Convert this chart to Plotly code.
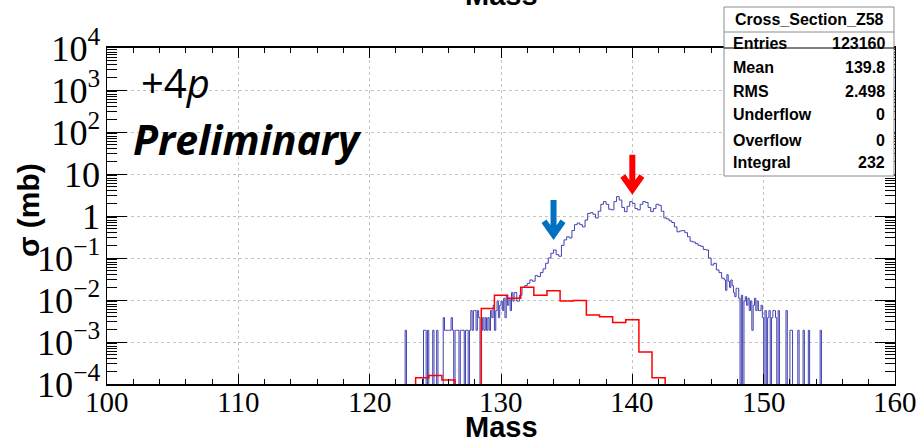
import numpy as np
import plotly.graph_objects as go

# ---------------- data ----------------
s1, s2, s3, s4 = 0.0019, 0.0038, 0.0056, 0.0075   # 1..4 entries per bin

# blue histogram, left tail: 0.1-wide bins from 122.0 to 131.0
blue_left_lo, blue_left_w = 122.0, 0.1
blue_left = [
    0, 0, 0, 0, 0, 0, 0, s1, 0, 0,                       # 122
    0, 0, 0, 0, 0, 0, 0, 0, 0, 0,                        # 123
    0, s1, s1, 0, s1, 0, 0, 0, s1, 0,                    # 124
    0, s1, 0, 0, 0, 0, s2, s1, s1, s1,                   # 125
    s1, s1, s2, s1, 0, s1, s1, s1, 0, s1,                # 126
    s1, s1, 0, s1, s1, 0, s1, s3, s1, s3,                # 127
    s3, s1, s3, s2, 0, s1, s2, s1, s2, s1,               # 128
    s2, s1, s3, s2, s4, s1, s3, 0.0094, s2, s4,          # 129
    0.0094, 0.0056, 0.011, 0.0038, 0.013, 0.0075, 0.011, 0.0056, 0.015, 0.0094,  # 130
]
# blue histogram, core: 0.2-wide bins from 131.0 to 147.0
blue_core_lo, blue_core_w = 131.0, 0.2
blue_core = [
    0.015, 0.0094, 0.013, 0.02, 0.022,     # 131
    0.025, 0.03, 0.028, 0.038, 0.036,      # 132
    0.045, 0.055, 0.075, 0.1, 0.13,        # 133
    0.155, 0.12, 0.11, 0.2, 0.27,          # 134
    0.32, 0.3, 0.45, 0.62, 0.68,           # 135
    0.62, 0.55, 0.8, 1.15, 1.2,            # 136
    1.1, 0.9, 1.3, 1.9, 2.2,               # 137
    1.9, 1.45, 1.4, 2.2, 2.9,              # 138
    2.4, 1.6, 1.27, 1.7, 2.2,              # 139
    2.0, 1.5, 1.4, 1.9, 2.2,               # 140
    2.1, 1.6, 1.27, 1.5, 1.9,              # 141
    1.8, 1.3, 0.9, 0.85, 0.77,             # 142
    0.7, 0.55, 0.42, 0.44, 0.45,           # 143
    0.4, 0.32, 0.25, 0.24, 0.22,           # 144
    0.2, 0.19, 0.16, 0.155, 0.1,           # 145
    0.068, 0.075, 0.052, 0.045, 0.033,     # 146
]
# blue histogram, right tail: 0.1-wide bins from 147.0 to 155.0
blue_right_lo, blue_right_w = 147.0, 0.1
blue_right = [
    0.03, 0.017, 0.04, 0.028, 0.02, 0.03, 0.022, 0.015, 0.012, 0.019,      # 147
    0.019, 0.011, 0, 0.013, 0, 0.0094, 0.012, 0.0075, 0.011, 0.0056,       # 148
    0.0094, s1, 0.0075, 0.011, 0.0056, 0.0094, 0.0056, 0.0056, 0.0075, s2,  # 149
    0, 0.0056, 0, s2, 0.0056, 0, s2, 0.0056, 0.0056, s2,                    # 150
    0, 0.0056, 0, 0, 0, 0, 0, 0.0056, 0, 0,                                  # 151
    s1, s1, 0, 0, 0, 0, s1, 0, 0, 0,                                         # 152
    s1, 0, 0, 0, s1, 0, 0, 0, 0, 0,                                          # 153
    0, 0, 0, s1, 0, 0, 0, 0, 0, 0,                                           # 154
]

# red histogram: 1.0-wide bins starting at 123.5
red_lo, red_w = 123.5, 1.0
red_sigma = [1.4e-4, 1.6e-4, 1.25e-4, 0, 0, 0.0063, 0.013, 0.011, 0.020,
             0.013, 0.0166, 0.0095, 0.0097, 0.0044, 0.0040, 0.0029, 0.0034,
             5.8e-4, 1.4e-4]

xtick_vals = [100, 110, 120, 130, 140, 150, 160]

arrow_mass = [134.0, 140.0]
arrow_tip_sigma = [0.27, 3.2]
arrow_colors = ["#0070C0", "#FF0000"]

stats_title = "Cross_Section_Z58"
stats_labels = ["Entries", "Mean", "RMS", "Underflow", "Overflow", "Integral"]
stats_values = ["123160", "139.8", "2.498", "0", "0", "232"]

# ---------------- helpers ----------------
W, H = 917, 443
L, R, T, B = 107, 895, 48, 384
PW, PH = R - L, B - T


def fx(px):
    return (px - L) / PW


def fy(py):
    return (B - py) / PH


FLOOR = 1e-7


def edges_of(lo, w, n):
    return lo + w * np.arange(n)


def step_xy(left_edges, right_end, vals):
    vals = np.asarray(vals, dtype=float)
    edges = np.concatenate([left_edges, [right_end]])
    x = np.concatenate([[edges[0]], edges])
    y = np.concatenate([[FLOOR], np.where(vals > 0, vals, FLOOR), [FLOOR]])
    return x, y


blue_edges = np.concatenate([
    edges_of(blue_left_lo, blue_left_w, len(blue_left)),
    edges_of(blue_core_lo, blue_core_w, len(blue_core)),
    edges_of(blue_right_lo, blue_right_w, len(blue_right)),
])
blue_vals = blue_left + blue_core + blue_right
bx, by = step_xy(blue_edges, blue_right_lo + blue_right_w * len(blue_right), blue_vals)
rx, ry = step_xy(edges_of(red_lo, red_w, len(red_sigma)),
                 red_lo + red_w * len(red_sigma), red_sigma)

fig = go.Figure()
fig.add_trace(go.Scatter(x=bx, y=by, mode="lines", line_shape="hv",
                         line=dict(color="#4040b0", width=1), showlegend=False,
                         hoverinfo="skip"))
fig.add_trace(go.Scatter(x=rx, y=ry, mode="lines", line_shape="hv",
                         line=dict(color="#ff0000", width=1.5), showlegend=False,
                         hoverinfo="skip"))

tickfont = dict(family="Liberation Serif", size=29, color="black")
fig.update_layout(
    width=W, height=H, autosize=False,
    margin=dict(l=L, r=W - R, t=T, b=H - B),
    paper_bgcolor="white", plot_bgcolor="white",
    showlegend=False,
    xaxis=dict(range=[100, 160], tick0=100, dtick=10, ticks="inside", ticklen=10,
               tickwidth=1, tickcolor="black", automargin=False, showticklabels=False,
               minor=dict(dtick=2, ticks="inside", ticklen=5, tickcolor="black", showgrid=False),
               showgrid=True, gridcolor="#c4c4c4", griddash="dot", gridwidth=1,
               showline=True, linecolor="black", linewidth=1.5, mirror="allticks",
               zeroline=False),
    yaxis=dict(type="log", range=[-4, 4], dtick=1, exponentformat="power",
               showexponent="all", ticks="inside", ticklen=20, tickwidth=1,
               tickcolor="black", automargin=False,
               minor=dict(dtick="D1", ticks="inside", ticklen=10, tickcolor="black", showgrid=False),
               showgrid=True, gridcolor="#c4c4c4", griddash="dot", gridwidth=1,
               showline=True, linecolor="black", linewidth=1, mirror="allticks",
               zeroline=False, tickfont=tickfont),
)

shapes = []
# arrows (chevron head + shaft), anchored at data positions, sized in pixels
arrow_path = ("M0,0 L12,17 L7.1,20.5 L3,14.7 L3,40 L-3,40 L-3,14.7 "
              "L-7.1,20.5 L-12,17 Z")
for m, s, c in zip(arrow_mass, arrow_tip_sigma, arrow_colors):
    shapes.append(dict(type="path", xref="x", yref="y", xsizemode="pixel",
                       ysizemode="pixel", xanchor=m, yanchor=s,
                       path=arrow_path, fillcolor=c, line=dict(width=0),
                       layer="above"))

# statistics box
shapes.append(dict(type="rect", xref="paper", yref="paper",
                   x0=fx(724), x1=fx(894), y0=fy(176), y1=fy(7),
                   fillcolor="white", line=dict(color="#8c8c8c", width=1),
                   layer="above"))
shapes.append(dict(type="line", xref="paper", yref="paper",
                   x0=fx(724), x1=fx(894), y0=fy(32), y1=fy(32),
                   line=dict(color="#8c8c8c", width=1), layer="above"))
# frame top edge seen through the box
shapes.append(dict(type="line", xref="paper", yref="paper",
                   x0=fx(724), x1=1, y0=1, y1=1,
                   line=dict(color="black", width=1), layer="above"))
fig.update_layout(shapes=shapes)

ann = []
# x tick labels
for v in xtick_vals:
    ann.append(dict(text=str(v), x=v, y=fy(402), xref="x", yref="paper",
                    xanchor="center", yanchor="middle", showarrow=False,
                    font=tickfont))

statfont = dict(family="Liberation Sans", size=16, color="black")
ann.append(dict(text="<b>%s</b>" % stats_title, x=fx(809), y=fy(19), xref="paper",
                yref="paper", xanchor="center", yanchor="middle", showarrow=False,
                font=statfont))
row_y = [43, 67, 91, 115, 140, 162]
for lab, val, yy in zip(stats_labels, stats_values, row_y):
    ann.append(dict(text="<b>%s</b>" % lab, x=fx(731), y=fy(yy), xref="paper",
                    yref="paper", xanchor="left", yanchor="middle", showarrow=False,
                    font=statfont))
    ann.append(dict(text="<b>%s</b>" % val, x=fx(887), y=fy(yy), xref="paper",
                    yref="paper", xanchor="right", yanchor="middle", showarrow=False,
                    font=statfont))

titlefont = dict(family="Liberation Sans", size=29, color="black")
ann.append(dict(text="<b>Mass</b>", x=fx(501), y=fy(-5), xref="paper", yref="paper",
                xanchor="center", yanchor="middle", showarrow=False, font=titlefont))
ann.append(dict(text="<b>Mass</b>", x=fx(501), y=fy(427), xref="paper", yref="paper",
                xanchor="center", yanchor="middle", showarrow=False, font=titlefont))
ann.append(dict(text="<b>σ (mb)</b>", x=fx(29), y=fy(210), xref="paper", yref="paper",
                xanchor="center", yanchor="middle", textangle=-90, showarrow=False,
                font=dict(family="Liberation Sans", size=30, color="black")))
ann.append(dict(text="+4<i>p</i>", x=fx(139), y=fy(83), xref="paper", yref="paper",
                xanchor="left", yanchor="middle", showarrow=False,
                font=dict(family="Open Sans", size=40, color="black")))
ann.append(dict(text="<b><i>Preliminary</i></b>", x=fx(131), y=fy(139), xref="paper",
                yref="paper", xanchor="left", yanchor="middle", showarrow=False,
                font=dict(family="Open Sans", size=41, color="black")))
fig.update_layout(annotations=ann)

fig.write_html("out.html", config={"displayModeBar": False},
               post_script="document.body.style.margin='0px';document.body.style.padding='0px';")
